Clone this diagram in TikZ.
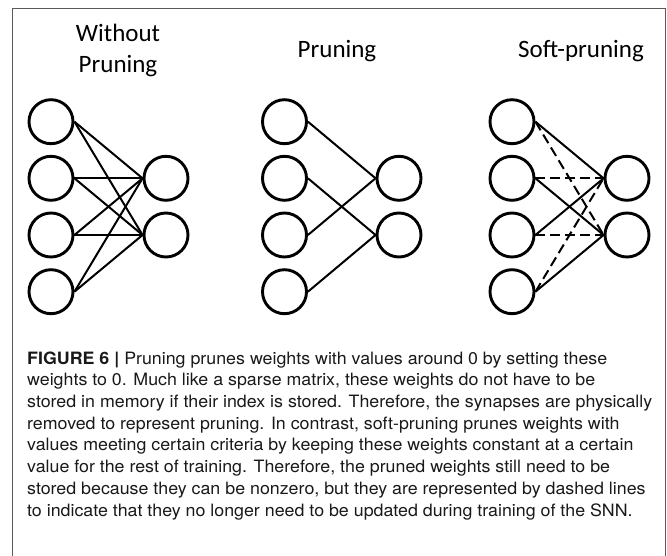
\documentclass[tikz,border=0pt]{standalone}
\usepackage{fontspec}
\setmainfont[FakeStretch=1.048]{TeX Gyre Heros}
\newfontfamily\titlefont{Carlito}
\begin{document}
\begin{tikzpicture}[x=1pt,y=-1pt,
  neuron/.style={circle,draw,line width=2.9pt,minimum size=44pt,inner sep=0pt},
  synapse/.style={line width=2pt},
  frozen/.style={line width=2pt,dash pattern=on 10pt off 5pt},
  paneltitle/.style={font=\titlefont\fontsize{25}{31}\selectfont,align=center,inner sep=0pt},
  frameline/.style={draw=black!65,line width=0.9pt}]
\useasboundingbox[fill=white] (0,0) rectangle (667,556);
\draw[frameline] (12,556) -- (12,8.5) -- (665,8.5) -- (665,556);

% panel titles (base = baseline of the last line)
\node[paneltitle,anchor=base] (t1) at (118,72.7) {Without\\Pruning};
\node[paneltitle,anchor=base] (t2) at (337,58) {Pruning};
\node[paneltitle,anchor=base] (t3) at (581,58) {Soft-pruning};

% layers: four inputs, two outputs per network
\foreach \p/\xa/\xb in {a/51/166,b/284.5/399,c/512/627} {
  \foreach \i/\y in {1/121.7,2/178.3,3/235,4/291.7}
    \node[neuron] (\p-in\i) at (\xa,\y) {};
  \node[neuron] (\p-out1) at (\xb,178.3) {};
  \node[neuron] (\p-out2) at (\xb,235) {};
}

% fully connected
\foreach \i in {1,...,4}
  \foreach \j in {1,2}
    \draw[synapse] (a-in\i.east) -- (a-out\j.west);

% pruned: only half of the synapses remain
\draw[synapse] (b-in1.east) -- (b-out1.west);
\draw[synapse] (b-in2.east) -- (b-out2.west);
\draw[synapse] (b-in3.east) -- (b-out1.west);
\draw[synapse] (b-in4.east) -- (b-out2.west);

% soft-pruned: frozen synapses are dashed
\draw[synapse] (c-in1.east) -- (c-out1.west);
\draw[synapse] (c-in2.east) -- (c-out2.west);
\draw[synapse] (c-in3.east) -- (c-out1.west);
\draw[synapse] (c-in4.east) -- (c-out2.west);
\draw[frozen] (c-in1.east) -- (c-out2.west);
\draw[frozen] (c-in2.east) -- (c-out1.west);
\draw[frozen] (c-in3.east) -- (c-out2.west);
\draw[frozen] (c-in4.east) -- (c-out1.west);

% caption (base = baseline of the last line)
\node[anchor=base west,align=left,inner sep=0pt,text=black!90,
      font=\fontsize{17}{21.7}\selectfont] (cap) at (27,516)
{\textbf{FIGURE 6 |} Pruning prunes weights with values around 0 by setting these\\
weights to 0. Much like a sparse matrix, these weights do not have to be\\
stored in memory if their index is stored. Therefore, the synapses are physically\\
removed to represent pruning. In contrast, soft-pruning prunes weights with\\
values meeting certain criteria by keeping these weights constant at a certain\\
value for the rest of training. Therefore, the pruned weights still need to be\\
stored because they can be nonzero, but they are represented by dashed lines\\
to indicate that they no longer need to be updated during training of the SNN.};
\end{tikzpicture}
\end{document}
